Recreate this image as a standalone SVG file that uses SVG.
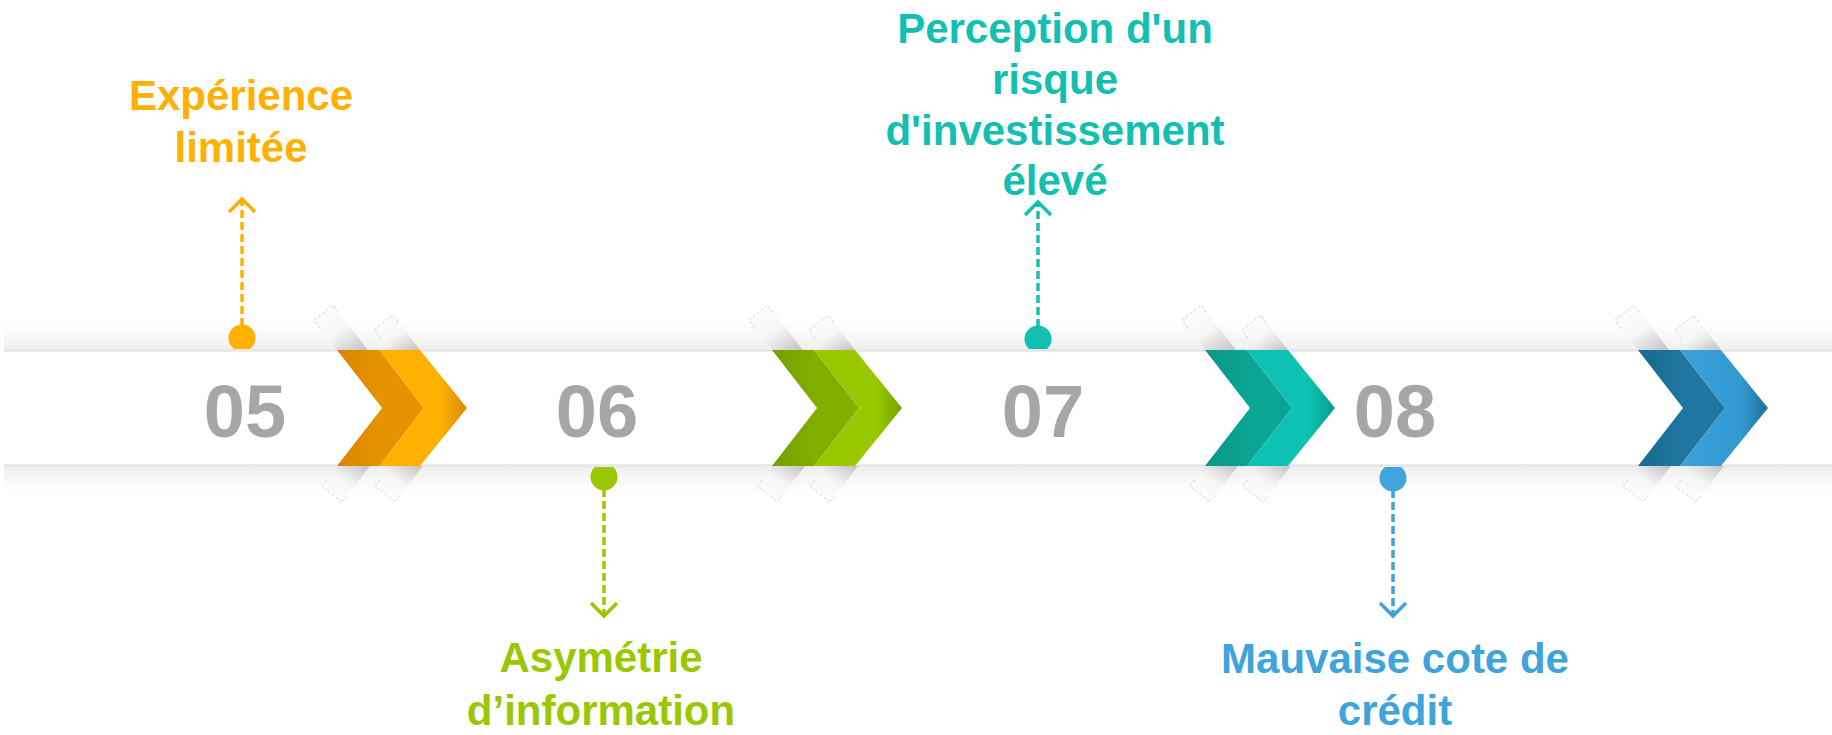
<svg xmlns="http://www.w3.org/2000/svg" width="1832" height="735" viewBox="0 0 1832 735">
<style>
.lbl{font-family:"Liberation Sans",Arial,sans-serif;font-weight:bold;font-size:42px;text-anchor:middle}
.num{font-family:"Liberation Sans",Arial,sans-serif;font-weight:bold;font-size:74px;text-anchor:middle;fill:#a6a6a6}
.conn{fill:none;stroke-width:3.5;stroke-dasharray:8 4}
.tabline{fill:none;stroke:#d4d4d4;stroke-width:1;stroke-dasharray:3 2}
.band{stroke:#e6e6e6;stroke-width:2.5}
</style>
<defs>
<linearGradient id="shTop" x1="0" y1="0" x2="0" y2="1"><stop offset="0" stop-color="#fff"/><stop offset="1" stop-color="#f0f0f0"/></linearGradient>
<linearGradient id="shBot" x1="0" y1="0" x2="0" y2="1"><stop offset="0" stop-color="#eeeeee"/><stop offset="1" stop-color="#fff"/></linearGradient>
<linearGradient id="tabTop" x1="0.1" y1="0" x2="0.9" y2="1"><stop offset="0" stop-color="#fff"/><stop offset="0.55" stop-color="#f6f6f6"/><stop offset="1" stop-color="#c6c6c6"/></linearGradient>
<linearGradient id="tabBot" x1="0.9" y1="0" x2="0.1" y2="1"><stop offset="0" stop-color="#c6c6c6"/><stop offset="0.45" stop-color="#f6f6f6"/><stop offset="1" stop-color="#fff"/></linearGradient>
<linearGradient id="oL" x1="0" y1="0" x2="1" y2="0"><stop offset="0" stop-color="#FFB000"/><stop offset="0.7" stop-color="#FFB000"/><stop offset="1" stop-color="#D98D00"/></linearGradient>
<linearGradient id="oD" x1="0" y1="0" x2="1" y2="0"><stop offset="0" stop-color="#D88600"/><stop offset="0.5" stop-color="#E39300"/><stop offset="1" stop-color="#E39300"/></linearGradient>
<linearGradient id="gL" x1="0" y1="0" x2="1" y2="0"><stop offset="0" stop-color="#9AC800"/><stop offset="0.7" stop-color="#9AC800"/><stop offset="1" stop-color="#76A000"/></linearGradient>
<linearGradient id="gD" x1="0" y1="0" x2="1" y2="0"><stop offset="0" stop-color="#72A000"/><stop offset="0.5" stop-color="#82AE00"/><stop offset="1" stop-color="#82AE00"/></linearGradient>
<linearGradient id="tL" x1="0" y1="0" x2="1" y2="0"><stop offset="0" stop-color="#0BC2B3"/><stop offset="0.7" stop-color="#0BC2B3"/><stop offset="1" stop-color="#089C8F"/></linearGradient>
<linearGradient id="tD" x1="0" y1="0" x2="1" y2="0"><stop offset="0" stop-color="#0A9585"/><stop offset="0.5" stop-color="#0BA595"/><stop offset="1" stop-color="#0BA595"/></linearGradient>
<linearGradient id="bL" x1="0" y1="0" x2="1" y2="0"><stop offset="0" stop-color="#3BA2DA"/><stop offset="0.7" stop-color="#3399D0"/><stop offset="1" stop-color="#1E6F98"/></linearGradient>
<linearGradient id="bD" x1="0" y1="0" x2="1" y2="0"><stop offset="0" stop-color="#1A6890"/><stop offset="0.5" stop-color="#1F76A0"/><stop offset="1" stop-color="#1F76A0"/></linearGradient>
<clipPath id="clipUp"><rect x="0" y="0" width="1832" height="349"/></clipPath>
<clipPath id="clipDn"><rect x="0" y="467" width="1832" height="268"/></clipPath>
<marker id="arO" viewBox="0 0 30 30" refX="15" refY="15" markerWidth="30" markerHeight="30" markerUnits="userSpaceOnUse" orient="auto"><path d="M2,2 L15,15 L2,28" fill="none" stroke="#FFB000" stroke-width="3.5"/></marker>
<marker id="arT" viewBox="0 0 30 30" refX="15" refY="15" markerWidth="30" markerHeight="30" markerUnits="userSpaceOnUse" orient="auto"><path d="M2,2 L15,15 L2,28" fill="none" stroke="#12BFB1" stroke-width="3.5"/></marker>
<marker id="arG" viewBox="0 0 30 30" refX="15" refY="15" markerWidth="30" markerHeight="30" markerUnits="userSpaceOnUse" orient="auto"><path d="M2,2 L15,15 L2,28" fill="none" stroke="#9AC700" stroke-width="3.5"/></marker>
<marker id="arB" viewBox="0 0 30 30" refX="15" refY="15" markerWidth="30" markerHeight="30" markerUnits="userSpaceOnUse" orient="auto"><path d="M2,2 L15,15 L2,28" fill="none" stroke="#3FA3DC" stroke-width="3.5"/></marker>
</defs>
<rect width="1832" height="735" fill="#fff"/>
<g id="band">
<rect x="4" y="322" width="1828" height="28" fill="url(#shTop)"/>
<rect x="4" y="466" width="1828" height="26" fill="url(#shBot)"/>
<rect x="4" y="351" width="1828" height="114" fill="#fff"/>
<line class="band" x1="4" y1="350.5" x2="1832" y2="350.5"/>
<line class="band" x1="4" y1="465.5" x2="1832" y2="465.5"/>
</g>
<g id="chevron-05" transform="translate(337,0)">
<polygon points="0,350 -23,320 -4,305 31,350" fill="url(#tabTop)"/><polygon points="52,350 37,330 56,315 83,350" fill="url(#tabTop)"/>
<polygon points="0,466 -15,486 5,502 33,466" fill="url(#tabBot)"/><polygon points="53,466 38,486 58,502 86,466" fill="url(#tabBot)"/>
<polyline class="tabline" points="-17,328 -23,320 -4,305 2,313"/><polyline class="tabline" points="43,338 37,330 56,315 62,323"/>
<polyline class="tabline" points="-10,480 -15,486 5,502 10,496"/><polyline class="tabline" points="43,480 38,486 58,502 63,496"/>
<polygon points="0,350 42,350 87,408 42,466 0,466 45,408" fill="url(#oD)"/>
<polygon points="42,350 83,350 130,408 83,466 42,466 87,408" fill="url(#oL)"/>
</g>
<g id="chevron-06" transform="translate(772,0)">
<polygon points="0,350 -23,320 -4,305 31,350" fill="url(#tabTop)"/><polygon points="52,350 37,330 56,315 83,350" fill="url(#tabTop)"/>
<polygon points="0,466 -15,486 5,502 33,466" fill="url(#tabBot)"/><polygon points="53,466 38,486 58,502 86,466" fill="url(#tabBot)"/>
<polyline class="tabline" points="-17,328 -23,320 -4,305 2,313"/><polyline class="tabline" points="43,338 37,330 56,315 62,323"/>
<polyline class="tabline" points="-10,480 -15,486 5,502 10,496"/><polyline class="tabline" points="43,480 38,486 58,502 63,496"/>
<polygon points="0,350 42,350 87,408 42,466 0,466 45,408" fill="url(#gD)"/>
<polygon points="42,350 83,350 130,408 83,466 42,466 87,408" fill="url(#gL)"/>
</g>
<g id="chevron-07" transform="translate(1205,0)">
<polygon points="0,350 -23,320 -4,305 31,350" fill="url(#tabTop)"/><polygon points="52,350 37,330 56,315 83,350" fill="url(#tabTop)"/>
<polygon points="0,466 -15,486 5,502 33,466" fill="url(#tabBot)"/><polygon points="53,466 38,486 58,502 86,466" fill="url(#tabBot)"/>
<polyline class="tabline" points="-17,328 -23,320 -4,305 2,313"/><polyline class="tabline" points="43,338 37,330 56,315 62,323"/>
<polyline class="tabline" points="-10,480 -15,486 5,502 10,496"/><polyline class="tabline" points="43,480 38,486 58,502 63,496"/>
<polygon points="0,350 42,350 87,408 42,466 0,466 45,408" fill="url(#tD)"/>
<polygon points="42,350 83,350 130,408 83,466 42,466 87,408" fill="url(#tL)"/>
</g>
<g id="chevron-08" transform="translate(1638,0)">
<polygon points="0,350 -23,320 -4,305 31,350" fill="url(#tabTop)"/><polygon points="52,350 37,330 56,315 83,350" fill="url(#tabTop)"/>
<polygon points="0,466 -15,486 5,502 33,466" fill="url(#tabBot)"/><polygon points="53,466 38,486 58,502 86,466" fill="url(#tabBot)"/>
<polyline class="tabline" points="-17,328 -23,320 -4,305 2,313"/><polyline class="tabline" points="43,338 37,330 56,315 62,323"/>
<polyline class="tabline" points="-10,480 -15,486 5,502 10,496"/><polyline class="tabline" points="43,480 38,486 58,502 63,496"/>
<polygon points="0,350 42,350 87,408 42,466 0,466 45,408" fill="url(#bD)"/>
<polygon points="42,350 83,350 130,408 83,466 42,466 87,408" fill="url(#bL)"/>
</g>
<g id="connectors">
<line class="conn" x1="242" y1="326" x2="242" y2="199" stroke="#FFB000" marker-end="url(#arO)"/>
<line class="conn" x1="1038" y1="327" x2="1038" y2="202" stroke="#12BFB1" marker-end="url(#arT)"/>
<line class="conn" x1="604" y1="489" x2="604" y2="616" stroke="#9AC700" marker-end="url(#arG)"/>
<line class="conn" x1="1393" y1="490" x2="1393" y2="616" stroke="#3FA3DC" marker-end="url(#arB)"/>
</g>
<g id="node-05">
<circle cx="242" cy="338" r="13.5" fill="#FFB000" clip-path="url(#clipUp)"/>
<text class="num" x="245" y="437">05</text>
<text class="lbl" fill="#FFB000"><tspan x="241" y="110">Expérience</tspan><tspan x="241" y="162">limitée</tspan></text>
</g>
<g id="node-06">
<circle cx="604" cy="477" r="13.5" fill="#9AC700" clip-path="url(#clipDn)"/>
<text class="num" x="597" y="437">06</text>
<text class="lbl" fill="#9AC700"><tspan x="601" y="672">Asymétrie</tspan><tspan x="601" y="725">d’information</tspan></text>
</g>
<g id="node-07">
<circle cx="1038" cy="339" r="13.5" fill="#12BFB1" clip-path="url(#clipUp)"/>
<text class="num" x="1043" y="437">07</text>
<text class="lbl" fill="#12BFB1"><tspan x="1055" y="43">Perception d'un</tspan><tspan x="1055" y="94">risque</tspan><tspan x="1055" y="145">d'investissement</tspan><tspan x="1055" y="195">élevé</tspan></text>
</g>
<g id="node-08">
<circle cx="1393" cy="478" r="13.5" fill="#3FA3DC" clip-path="url(#clipDn)"/>
<text class="num" x="1395" y="437">08</text>
<text class="lbl" fill="#3FA3DC"><tspan x="1395" y="673">Mauvaise cote de</tspan><tspan x="1395" y="725">crédit</tspan></text>
</g>
</svg>
